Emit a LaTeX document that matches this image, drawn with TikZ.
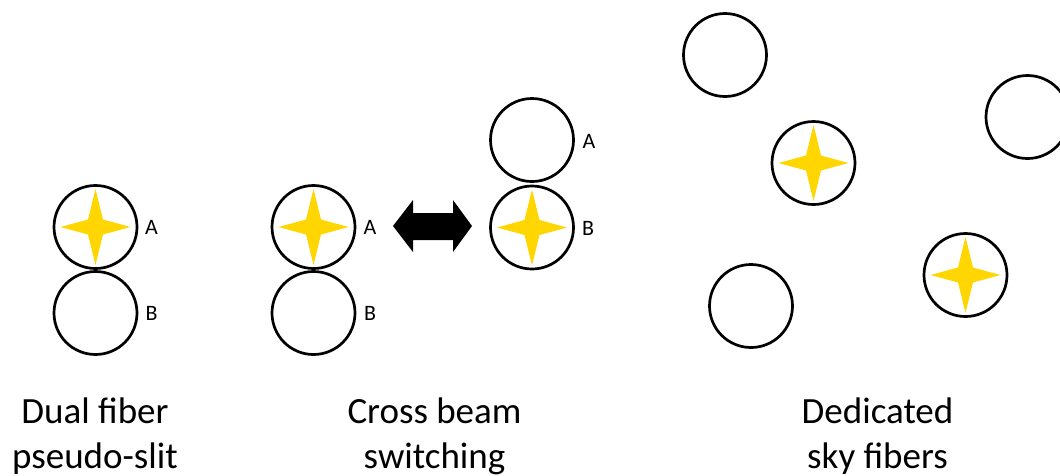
\documentclass[tikz,border=0pt]{standalone}
\usepackage{fontspec}
\setmainfont{Carlito}
\definecolor{stargold}{RGB}{255,214,0}
\tikzset{
  fiber/.style={circle, draw=black, line width=2.7pt, minimum size=83pt, inner sep=0pt},
  letterlbl/.style={inner sep=0pt, font=\fontsize{22}{26}\selectfont},
  caption/.style={inner sep=0pt, anchor=base, font=\fontsize{37}{45}\selectfont},
  star/.style={fill=stargold},
}
\newcommand{\fourstar}[1]{%
  \fill[star] (#1) +(0,-38) -- +(7.5,-7.5) -- +(35,0) -- +(7.5,7.5) -- +(0,38)
    -- +(-7.5,7.5) -- +(-35,0) -- +(-7.5,-7.5) -- cycle;}
\begin{document}
\begin{tikzpicture}[x=1pt,y=-1pt]
\useasboundingbox (0,0) rectangle (1060,475);
% Dual fiber pseudo-slit
\node[fiber] (dA) at (95.5,227) {};
\node[fiber] (dB) at (95.5,313) {};
\fourstar{dA}
\node[letterlbl] (dAl) at (151.5,227) {A};
\node[letterlbl] (dBl) at (151.5,313) {B};
\node[caption] (dc1) at (95,423) {Dual fiber};
\node[caption] (dc2) at (95,468) {pseudo-slit};
% Cross beam switching
\node[fiber] (cA) at (313.5,227) {};
\node[fiber] (cB) at (313.5,313) {};
\fourstar{cA}
\node[letterlbl] (cAl) at (370,227) {A};
\node[letterlbl] (cBl) at (370,313) {B};
\fill (393,226) -- (413,200) -- (413,213) -- (453,213) -- (453,200) -- (472,226)
  -- (453,252) -- (453,240) -- (413,240) -- (413,252) -- cycle;
\node[fiber] (sA) at (532,140) {};
\node[fiber] (sB) at (532,227.5) {};
\fourstar{sB}
\node[letterlbl] (sAl) at (589,141) {A};
\node[letterlbl] (sBl) at (588,228) {B};
\node[caption] (cc1) at (434.5,423) {Cross beam};
\node[caption] (cc2) at (434.5,468) {switching};
% Dedicated sky fibers
\node[fiber] (k1) at (725,55) {};
\node[fiber] (k2) at (1027.5,117) {};
\node[fiber] (k3) at (813.5,163) {};
\node[fiber] (k4) at (965.5,275) {};
\node[fiber] (k5) at (751,306) {};
\fourstar{k3}
\fourstar{k4}
\node[caption] (kc1) at (877.5,423) {Dedicated};
\node[caption] (kc2) at (877.5,468) {sky fibers};
\end{tikzpicture}
\end{document}
